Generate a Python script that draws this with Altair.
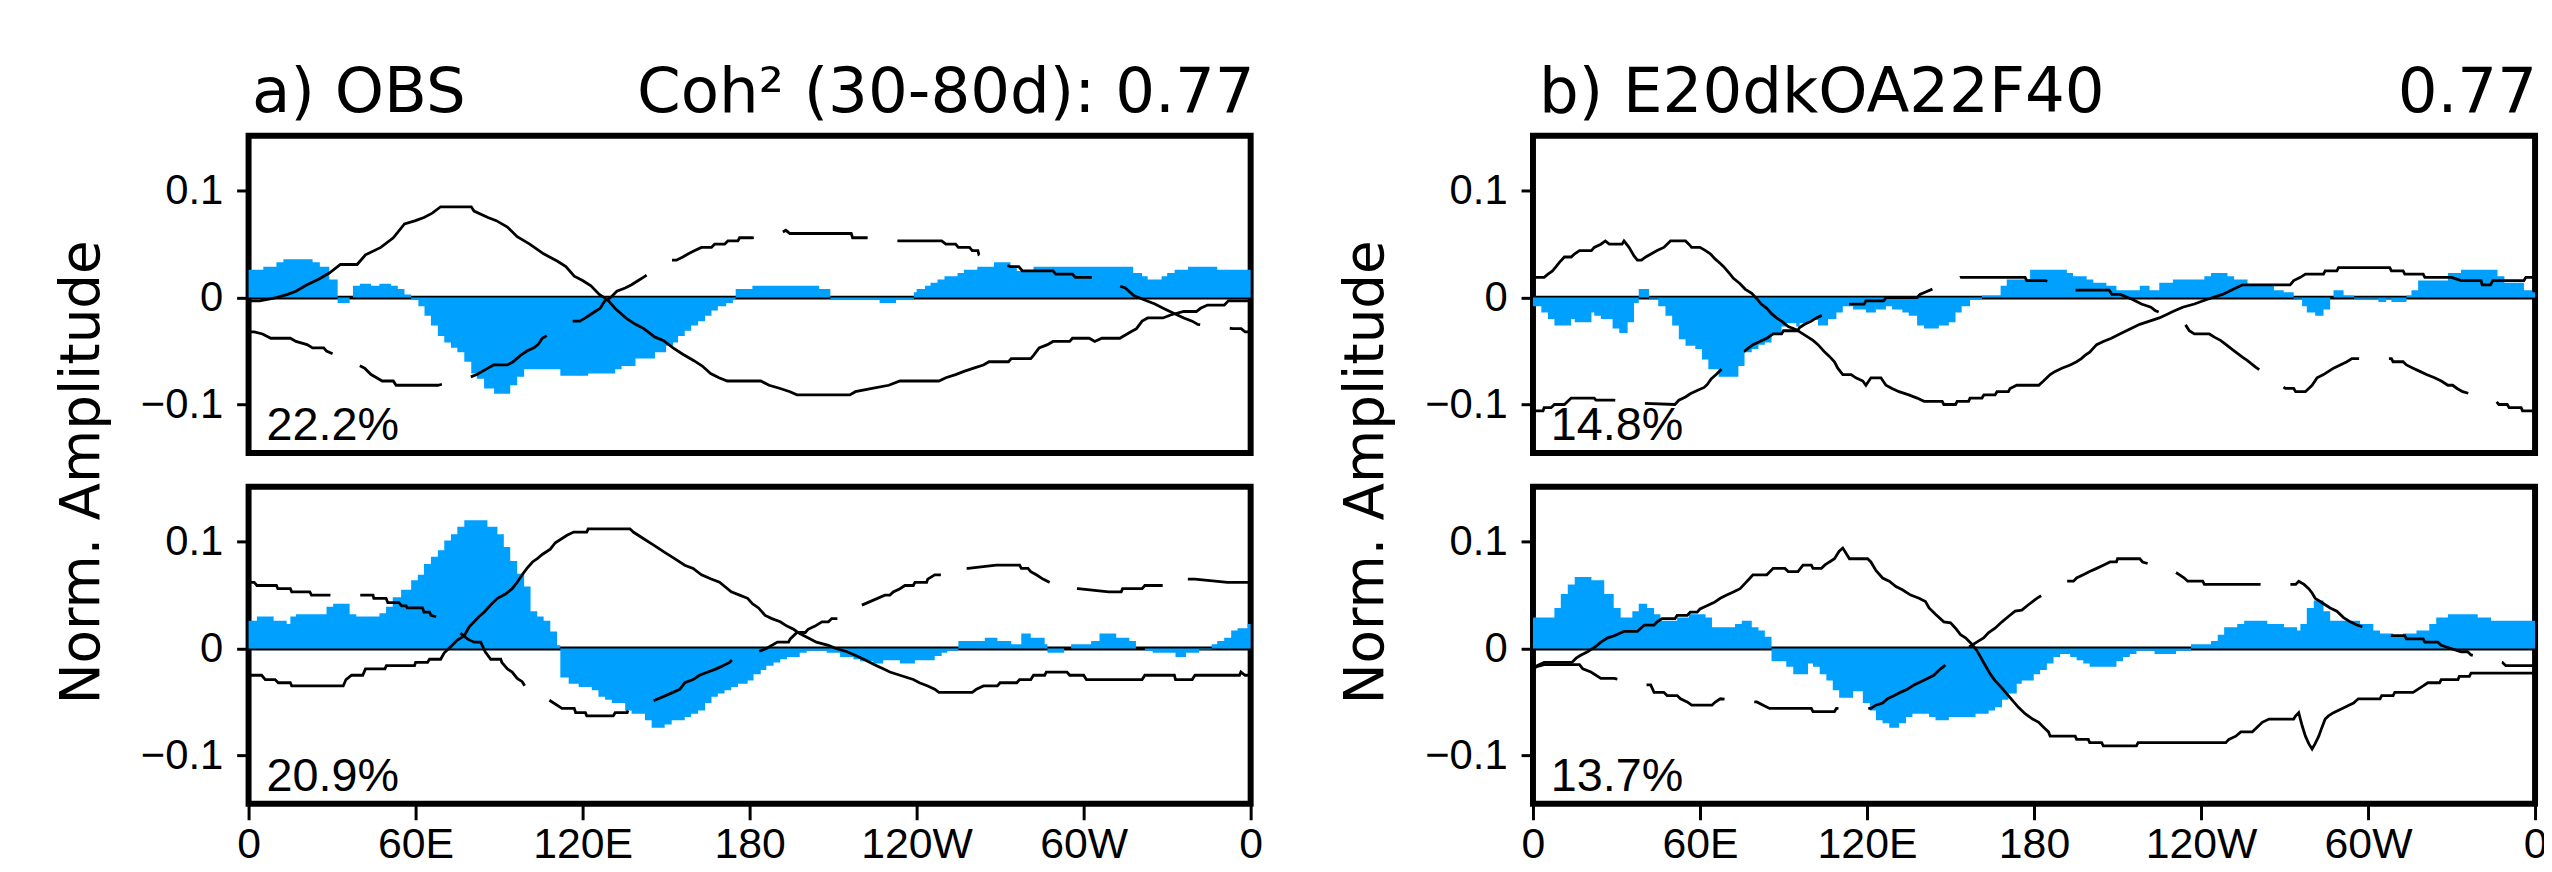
import altair as alt
import pandas as pd

# ---------------- text / ticks ----------------
XTICK_VALUES = [0, 60, 120, 180, 240, 300, 360]
XTICK_LABELS = ["0", "60E", "120E", "180", "120W", "60W", "0"]
YTICK_VALUES = [-0.1, 0, 0.1]
TITLES_LEFT = ["a) OBS", "b) E20dkOA22F40"]
TITLES_RIGHT = ["Coh² (30-80d): 0.77", "0.77"]
PCT = ["22.2%", "20.9%", "14.8%", "13.7%"]
YTITLE = "Norm. Amplitude"

# ---------------- data: [longitude, value] ----------------
# blue shading (step values, each starts at the given longitude)
A_TOP_BLUE = [[0, .026], [5.3, .029], [10, .033], [12.5, .036], [23, .033], [25.6, .029], [29, .017], [32, -.005],
              [36.3, 0.0], [37.5, .011], [40, .013], [44, .011], [47, .013], [51.2, .011], [53.6, .008], [56, .003],
              [58.4, -.002], [61, -.008], [63.2, -.017], [65.5, -.026], [68, -.036], [70.3, -.042], [72.7, -.047],
              [75, -.051], [77.5, -.060], [80, -.071], [82, -.076], [84.6, -.085], [88.2, -.090], [94, -.082],
              [96.5, -.074], [99, -.067], [112, -.073], [122, -.071], [131.7, -.067], [134, -.064], [139, -.057],
              [146, -.051], [150, -.045], [152.5, -.042], [154.3, -.036], [156.7, -.031], [159, -.026], [161.5, -.022],
              [164, -.017], [166.3, -.012], [168.6, -.008], [171.6, -.005], [174, -.002], [175, .008], [181, .011],
              [205, .008], [209, -.002], [226.7, -.005], [232.6, -.002], [239, .005], [240, .008], [243, .011],
              [245, .014], [247.5, .017], [250, .020], [254.7, .023], [257, .026], [261.8, .029], [267.8, .033],
              [273.7, .029], [276, .025], [282, .029], [317.8, .023], [321, .020], [323, .017], [328, .020],
              [330, .023], [332.7, .026], [337.5, .029], [348, .026], [360, .026]]

A_TOP_SOLID = [[0, -.003], [4, -.003], [10, 0.0], [14, .003], [17, .006], [21, .012], [25, .017], [29, .023], [33, .031],
               [39, .031], [42, .040], [47.5, .047], [52, .056], [56, .069], [60, .072], [63, .075], [66, .079],
               [69, .085], [80, .085], [81, .081], [86, .075], [89, .072], [93, .066], [96.5, .057], [101, .050],
               [106, .041], [111, .034], [114, .029], [117, .020], [120, .016], [123, .011], [126, .003], [129, -.002],
               [132, -.011], [136, -.020], [139, -.025], [142, -.029], [146, -.037], [149, -.040], [152.5, -.047],
               [156, -.053], [160, -.059], [163, -.064], [166, -.071], [169, -.075], [172, -.078], [184, -.078],
               [187, -.082], [191, -.085], [194.5, -.088], [197, -.091], [216, -.091], [218, -.088], [224, -.085],
               [230, -.082], [234, -.078], [248, -.078], [250.5, -.075], [254, -.072], [257, -.069], [260.5, -.066],
               [264, -.063], [266, -.060], [273, -.060], [274, -.057], [281, -.057], [282, -.054], [284, -.047],
               [287, -.044], [289, -.041], [295, -.041], [296, -.038], [302, -.038], [304, -.041], [306.5, -.038],
               [313, -.038], [315, -.035], [317, -.032], [319, -.029], [321, -.022], [323, -.019], [328.5, -.019],
               [331.5, -.016], [336, -.013], [340.5, -.013], [342, -.010], [344.5, -.007], [350.5, -.007],
               [352, -.003], [360, -.003]]

A_TOP_DASH = [[0, -.032], [2, -.032], [5, -.034], [8, -.038], [15, -.038], [17, -.041], [21, -.044], [23, -.047],
              [27, -.047], [28, -.050], [39.3, -.063], [41.7, -.066], [44, -.072], [46, -.075], [48, -.078],
              [52, -.078], [53, -.082], [68, -.082], [79, -.075], [82, -.072], [86, -.066], [88, -.063], [93, -.063],
              [95, -.060], [97.7, -.054], [100, -.050], [102.5, -.047], [104, -.044], [105.5, -.038], [116, -.022],
              [119, -.022], [121, -.019], [122.7, -.016], [124.5, -.013], [126.3, -.010], [128, -.003], [130, 0.0],
              [132.3, .006], [135.3, .009], [137.6, .012], [140, .016], [141.8, .019], [151.3, .035], [153.7, .035],
              [156, .038], [158, .041], [160.3, .044], [162.7, .047], [166.3, .047], [167.4, .050], [171, .050],
              [172.2, .053], [175.8, .053], [176.4, .056], [181, .056], [191, .060], [193, .063], [194.5, .060],
              [216.5, .060], [217, .056], [222, .056], [233, .053], [249, .053], [250.5, .050], [254, .050],
              [255, .047], [259, .047], [260, .044], [262, .044], [262.4, .040], [273.7, .029], [276.7, .029],
              [278, .025], [289, .025], [290, .022], [296, .022], [297, .019], [303.5, .019], [315, .009],
              [318, .002], [322.6, -.003], [325.6, -.006], [328.6, -.010], [331, -.013], [336, -.019], [339, -.022],
              [341, -.025], [353.6, -.029], [356.6, -.029], [358, -.032], [360, -.032]]

A_BOT_BLUE = [[0, .026], [3, .030], [9, .026], [13.7, .023], [15, .030], [17, .032], [28, .039], [30.4, .042],
              [36.3, .032], [38.7, .030], [47, .033], [49.4, .039], [51.8, .048], [54.8, .055], [58.4, .064],
              [60.8, .069], [63, .079], [65.5, .086], [68, .092], [70.3, .101], [72.7, .107], [75, .114],
              [77.5, .120], [85.8, .114], [89.4, .107], [91.7, .095], [94, .082], [96.5, .070], [99, .058],
              [101.3, .035], [103.7, .030], [106, .026], [108.4, .016], [110.8, .003], [112, -.027], [115, -.033],
              [118.6, -.036], [123.3, -.039], [125.7, -.045], [128.1, -.048], [130.5, -.051], [135.3, -.058],
              [137.6, -.061], [142.4, -.067], [144.8, -.074], [149.5, -.071], [152, -.067], [156.7, -.064],
              [159, -.061], [161.5, -.058], [164, -.051], [166.3, -.045], [168.6, -.042], [171, -.039],
              [173.4, -.036], [175.8, -.033], [179.3, -.030], [181.4, -.024], [184, -.020], [186, -.016],
              [188.6, -.013], [191, -.010], [193.4, -.008], [198, -.004], [200.5, -.002], [207.7, -.004],
              [212.5, -.008], [217.3, -.010], [219.7, -.012], [224.4, -.014], [228, -.011], [234, -.014],
              [239.4, -.011], [246.5, -.007], [249, -.004], [251, -.002], [255, .007], [264.5, .010], [269, .007],
              [274, .004], [277.6, .014], [281, .010], [286, .004], [287, -.004], [293, 0.0], [295.5, .004],
              [302.7, .007], [305.7, .014], [311.7, .010], [316.4, .007], [318.8, 0.0], [322, -.002], [324.8, -.004],
              [333, -.008], [336.8, -.004], [341.5, -.001], [346, .004], [348, .007], [350.5, .010], [353, .017],
              [355.3, .019], [359, .023], [360, .023]]

A_BOT_SOLID = [[0, -.025], [4.7, -.025], [6, -.029], [9.5, -.029], [10.7, -.032], [15, -.032], [15.5, -.035],
               [34, -.035], [35, -.029], [37, -.025], [41, -.025], [42, -.019], [49, -.019], [49.5, -.016],
               [59.6, -.016], [60, -.013], [64.3, -.013], [65, -.010], [69, -.010], [70.3, -.004], [72.7, .002],
               [75, .008], [77.5, .012], [79.2, .020], [81, .025], [82.8, .030], [84.6, .034], [87, .041],
               [89.4, .047], [92.3, .051], [94.7, .056], [96.5, .062], [98.3, .069], [100, .075], [102, .081],
               [103.7, .084], [105.5, .088], [108.4, .093], [110.2, .099], [112.6, .103], [114.4, .106],
               [116.8, .109], [121.5, .109], [122, .112], [137, .112], [138.2, .109], [141.8, .103], [145.4, .097],
               [149.5, .090], [152.5, .085], [156.7, .078], [159.7, .075], [162.7, .069], [166.2, .065],
               [169.2, .062], [173.4, .053], [176.4, .050], [179.3, .047], [181, .042], [183.2, .038], [185.6, .031],
               [188, .028], [191, .025], [193.4, .021], [195.8, .018], [198, .014], [201.8, .009], [204, .006],
               [208.3, .003], [211, 0.0], [215, -.003], [218.5, -.007], [221, -.010], [223.3, -.013], [225.6, -.016],
               [228, -.019], [230.4, -.022], [234, -.025], [238.8, -.029], [241, -.032], [244, -.035],
               [246.5, -.038], [248, -.041], [260, -.041], [261.5, -.038], [264, -.035], [269, -.035], [270, -.032],
               [276, -.032], [277, -.029], [281, -.029], [282, -.025], [286, -.025], [286.6, -.022], [294, -.022],
               [295, -.025], [300, -.025], [301, -.029], [321, -.029], [322, -.025], [332.6, -.025], [333, -.029],
               [339, -.029], [340, -.025], [356, -.025], [356.5, -.022], [358, -.025], [360, -.025]]

A_BOT_DASH = [[0, .062], [2, .062], [3, .059], [10, .059], [10.5, .056], [15, .056], [15.5, .053], [22, .053],
              [22.6, .050], [29, .050], [40.5, .050], [44.7, .050], [45, .047], [49.4, .047], [50, .043], [54, .043],
              [55, .040], [56.6, .040], [57, .038], [62.5, .038], [63, .034], [65, .034], [65.5, .031], [70, .028],
              [78.6, .009], [81, .006], [83.4, .006], [85, -.003], [87, -.010], [90.6, -.010], [91, -.013],
              [93, -.019], [94.7, -.022], [96.5, -.028], [98.3, -.031], [100, -.038], [102, -.041], [103.7, -.041],
              [112.6, -.056], [117, -.056], [117.5, -.060], [121, -.060], [121.5, -.063], [131, -.063],
              [131.7, -.060], [136, -.060], [136.5, -.056], [141, -.056], [141.8, -.053], [152.5, -.041],
              [155, -.038], [156.7, -.032], [159.7, -.029], [162, -.025], [165, -.022], [168, -.019], [170.4, -.016],
              [172.8, -.013], [175, -.007], [181, -.005], [186, 0.0], [190, .006], [194, .006], [194.6, .009],
              [197, .015], [200, .015], [201, .018], [203.5, .021], [206, .025], [208.3, .025], [209.5, .028],
              [213.7, .028], [215, .031], [217.3, .034], [218, .038], [228.6, .050], [230.4, .050], [231.6, .053],
              [234, .056], [235.8, .059], [238.8, .059], [239.4, .062], [243.6, .062], [244, .065], [246.5, .069],
              [250.7, .069], [251.3, .072], [255.5, .072], [256, .075], [258.5, .075], [268.6, .078], [277, .078],
              [277.6, .075], [280, .075], [281, .072], [283, .069], [285.4, .065], [287.7, .062], [290, .059],
              [294.3, .059], [295, .056], [298, .056], [309, .053], [313.5, .053], [314, .056], [321, .056],
              [322, .059], [329, .059], [329.6, .062], [336.8, .062], [337, .065], [340, .065], [351.7, .062],
              [360, .062]]

B_TOP_BLUE = [[0, -.008], [3, -.014], [5.4, -.020], [7.7, -.026], [13.7, -.020], [15, -.023], [21, -.014], [22, -.017],
              [24.4, -.020], [28.6, -.029], [31, -.033], [34, -.023], [36.3, -.005], [38, .008], [41.7, -.001],
              [45, -.008], [47.6, -.017], [50, -.026], [52.4, -.039], [54.8, -.045], [58.3, -.048], [60.7, -.058],
              [63, -.067], [66.7, -.074], [73.8, -.064], [76, -.051], [78.6, -.048], [81, -.044], [83.3, -.042],
              [85.7, -.033], [89.3, -.027], [91, -.024], [94.6, -.027], [95.8, -.024], [99.4, -.021], [102.4, -.026],
              [106, -.020], [109, -.014], [111.3, -.008], [115, -.011], [119.6, -.014], [123.2, -.011],
              [126.8, -.008], [129, -.011], [132.7, -.014], [135, -.017], [138, -.026], [140.5, -.029],
              [145.8, -.026], [149.4, -.023], [151.8, -.014], [154, -.008], [157, -.002], [161.3, .002], [168, .011],
              [170.2, .017], [178.6, .026], [191.8, .023], [194, .020], [198.9, .017], [201.3, .014], [206, .011],
              [209.6, .007], [218, .011], [221.5, .007], [225, .014], [229.9, .017], [241.2, .020], [243.6, .023],
              [249.5, .020], [251.9, .017], [256.7, .011], [266.2, .007], [269.7, .005], [273.3, -.001],
              [276.3, -.008], [278, -.014], [281, -.017], [284, -.011], [286.4, 0.0], [287.6, .007], [291.2, .002],
              [295, -.001], [303.7, -.004], [306.5, -.001], [308.4, -.004], [313.8, .002], [315.6, .007], [318, .016],
              [328.7, .023], [333.4, .026], [346.5, .020], [349, .014], [356, .007], [359, .005], [360, .005]]

B_TOP_SOLID = [[0, .019], [4, .019], [5.4, .022], [7, .025], [8.3, .029], [9.5, .033], [11.3, .038], [13.7, .038],
               [15, .041], [16.7, .044], [21, .044], [22, .047], [24.4, .050], [26, .053], [27.4, .050], [32, .050],
               [32.7, .053], [34.5, .047], [36.3, .039], [37.5, .035], [39, .035], [40.5, .038], [44.6, .044],
               [47, .047], [48.2, .050], [49.4, .053], [54.8, .053], [56, .050], [57, .047], [60, .047], [62, .044],
               [63.7, .041], [65.5, .036], [67.3, .032], [68.5, .029], [70.8, .022], [72, .018], [74.4, .013],
               [76.2, .008], [78.6, .004], [80.4, -.001], [82, -.006], [84, -.010], [85.7, -.015], [87.5, -.019],
               [89.3, -.022], [91.7, -.027], [94.6, -.030], [96.4, -.033], [98.8, -.037], [100.6, -.040],
               [102.4, -.044], [104.8, -.051], [106.5, -.055], [108.3, -.060], [109.5, -.066], [111.3, -.072],
               [114.3, -.072], [116, -.075], [118.5, -.078], [119.6, -.082], [121.4, -.075], [125, -.075],
               [126.8, -.082], [129, -.085], [131.5, -.088], [135, -.091], [138, -.094], [140.5, -.097], [147, -.097],
               [147.6, -.100], [151.8, -.100], [152.4, -.097], [156.5, -.097], [157, -.094], [161.3, -.094],
               [162, -.091], [166, -.091], [166.7, -.088], [170.8, -.088], [171.4, -.085], [173.8, -.082],
               [181.7, -.082], [183.4, -.078], [185.8, -.072], [187.6, -.069], [190, -.066], [193, -.063],
               [195.3, -.060], [197, -.057], [198.3, -.054], [200, -.051], [202.5, -.044], [204.9, -.041],
               [207.8, -.038], [210.8, -.034], [213.2, -.031], [215.6, -.028], [218, -.025], [221.5, -.022],
               [225, -.019], [227.5, -.016], [229.9, -.013], [233.4, -.009], [237.6, -.006], [241.8, -.002],
               [247.7, .003], [250.1, .006], [252.5, .009], [255, .012], [272, .012], [273.3, .016], [275.7, .019],
               [277.5, .022], [284, .022], [284.6, .025], [288.8, .025], [289.4, .028], [307.8, .028], [308.4, .025],
               [312.6, .025], [313.2, .022], [319.8, .022], [320.4, .019], [330, .019], [333.4, .016], [340.6, .016],
               [341, .012], [344, .012], [344.8, .016], [356, .016], [356.7, .019], [360, .019]]

B_TOP_DASH = [[0, -.106], [3.6, -.106], [4, -.103], [6.5, -.103], [7.7, -.100], [11.3, -.100], [13.7, -.094],
              [22, -.094], [22.6, -.096], [29, -.096], [40, -.099], [51, -.100], [52.4, -.096], [54.8, -.093],
              [56.5, -.090], [59, -.087], [61.5, -.084], [62.7, -.081], [64, -.076], [65.8, -.072], [74.4, -.050],
              [76, -.050], [79, -.044], [81.5, -.041], [84, -.038], [86.3, -.034], [89.3, -.034], [90, -.031],
              [95, -.031], [95.8, -.028], [97.6, -.025], [100, -.022], [101.8, -.019], [112.5, -.006], [119, -.006],
              [119.6, -.003], [126, -.003], [126.8, 0.0], [138, 0.0], [139, .003], [141.7, .006], [153.6, .019],
              [176.8, .019], [177.4, .016], [184, .016], [194, .007], [207, .007], [208, .003], [211, .003],
              [215.6, -.002], [218.6, -.006], [222, -.009], [223.5, -.012], [234.3, -.025], [235.8, -.031],
              [237.6, -.034], [243, -.034], [244.8, -.037], [247, -.040], [249, -.044], [252, -.050], [255, -.056],
              [256.7, -.059], [259.6, -.065], [270.3, -.085], [273.3, -.085], [274, -.088], [277.5, -.088],
              [278.7, -.085], [279.9, -.082], [281.7, -.075], [284, -.072], [285.8, -.069], [287.6, -.066],
              [290, -.063], [292.4, -.060], [294.2, -.057], [296, -.057], [308.4, -.057], [309, -.060],
              [312.6, -.060], [313.8, -.063], [316.2, -.066], [318.6, -.069], [321, -.072], [323.9, -.075],
              [326.3, -.078], [328.7, -.082], [330.4, -.082], [332, -.085], [334, -.088], [346, -.097], [347, -.100],
              [350, -.100], [350.7, -.103], [355, -.103], [355.5, -.106], [360, -.106]]

B_BOT_BLUE = [[0, .029], [7.7, .038], [10, .051], [12.5, .060], [15, .067], [21, .064], [25.6, .051], [29, .038],
              [31.5, .029], [35.7, .035], [38, .042], [41, .038], [43.5, .032], [45.8, .026], [51.8, .029], [56, .032],
              [62, .029], [64.3, .020], [72.6, .023], [75, .026], [78.6, .020], [81, .017], [83.3, .011],
              [85.7, -.012], [91, -.017], [93.5, -.024], [98.8, -.014], [100.6, -.017], [103, -.024], [105.4, -.030],
              [107.7, -.039], [110, -.046], [115, -.040], [118.5, -.051], [121, -.058], [123.2, -.067],
              [125.6, -.070], [128, -.074], [131.5, -.070], [134, -.064], [136.3, -.061], [142.3, -.064],
              [144.6, -.067], [149.4, -.064], [159, -.061], [163.7, -.058], [166, -.055], [168.5, -.048],
              [170.8, -.042], [173.8, -.033], [175.6, -.030], [179.9, -.024], [182.2, -.020], [184.6, -.014],
              [187, -.008], [189.4, -.005], [193, -.008], [195.3, -.011], [197.7, -.014], [200, -.017],
              [209.6, -.012], [212, -.008], [214.4, -.005], [216.8, -.002], [223.3, -.005], [231, -.002],
              [236.4, .004], [243.6, .007], [246, .013], [248.3, .020], [253, .023], [255.5, .026], [263.8, .023],
              [269.8, .020], [274.5, .017], [275.7, .023], [278, .038], [280.5, .045], [284, .035], [286.4, .026],
              [297.1, .023], [301.9, .017], [304.3, .014], [309, .012], [312.6, .014], [317.4, .017], [322, .023],
              [324.5, .029], [328.7, .032], [339.4, .029], [344.2, .026], [360, .026]]

B_BOT_SOLID = [[0, -.020], [1.5, -.016], [4, -.013], [14, -.013], [15.5, -.009], [17.3, -.006], [19.6, -.003],
               [22.6, .002], [24.4, .006], [26.8, .010], [29.2, .012], [32.7, .016], [37.5, .016], [38.7, .019],
               [40, .022], [43.5, .022], [44.6, .025], [46.4, .028], [51, .028], [51.8, .031], [55.4, .031],
               [56.5, .034], [59, .034], [60, .037], [62.5, .040], [65, .043], [67.3, .047], [69.6, .050], [72, .053],
               [74.4, .056], [76.2, .061], [78, .066], [79, .069], [84, .069], [86.3, .075], [90.5, .075],
               [91.7, .072], [95.2, .072], [97, .078], [100, .078], [100.6, .075], [103.6, .075], [104.8, .078],
               [106.5, .081], [108.3, .084], [110, .091], [111.3, .094], [113.7, .084], [120.2, .084], [121.4, .081],
               [123.2, .073], [125.6, .066], [128, .063], [130.4, .058], [132.7, .055], [135.7, .050], [138.7, .047],
               [141, .044], [142.3, .038], [144.6, .032], [147.6, .025], [150, .024], [151.8, .019], [153.6, .013],
               [155.4, .010], [157.7, .004], [159.5, -.002], [161.9, -.013], [164.3, -.024], [166, -.030],
               [168.5, -.037], [171.4, -.046], [174.4, -.055], [176.8, -.061], [179.5, -.066], [181.7, -.069],
               [182.8, -.072], [184, -.075], [185.2, -.078], [185.8, -.082], [194.8, -.082], [195.3, -.085],
               [199.5, -.085], [200, -.088], [204.3, -.088], [204.9, -.091], [216.8, -.091], [217.4, -.088],
               [248.9, -.088], [250, -.085], [252.5, -.082], [254.3, -.078], [258.4, -.078], [259.6, -.075],
               [262, -.069], [264.4, -.066], [273.3, -.066], [274, -.063], [275.1, -.060], [276.3, -.072],
               [277.5, -.082], [278.7, -.089], [279.9, -.094], [281, -.089], [282.3, -.082], [283.4, -.074],
               [284.6, -.066], [285.8, -.063], [287.6, -.060], [290, -.057], [292.4, -.054], [294.8, -.051],
               [296.5, -.047], [304.3, -.047], [304.9, -.044], [309, -.044], [309.6, -.041], [316.2, -.041],
               [318, -.038], [319.8, -.035], [321.5, -.032], [325.7, -.032], [326.3, -.029], [332.3, -.029],
               [332.8, -.026], [336.4, -.026], [337, -.023], [360, -.023]]

B_BOT_DASH = [[0, -.018], [4, -.015], [16.7, -.015], [17.9, -.019], [20.8, -.022], [24.4, -.028], [29.2, -.028],
              [39.3, -.034], [42.3, -.034], [43.5, -.041], [47, -.041], [48.2, -.044], [51.8, -.044], [53, -.047],
              [55.4, -.050], [57, -.053], [64.3, -.053], [65.5, -.050], [67.3, -.047], [80.4, -.050], [82.7, -.053],
              [85, -.056], [100, -.056], [100.6, -.059], [108.3, -.059], [109, -.056], [121.4, -.056],
              [123.2, -.053], [125.6, -.051], [127.4, -.047], [129.8, -.044], [132, -.041], [134.5, -.038],
              [136.9, -.034], [139.3, -.031], [141.7, -.028], [144, -.025], [146.4, -.019], [157, .002], [160, .007],
              [161.9, .010], [163.7, .015], [166, .019], [168.5, .025], [170.8, .030], [173.2, .035], [175.6, .036],
              [178, .041], [181, .047], [191.8, .063], [194.2, .063], [195.3, .066], [197.7, .069], [200, .072],
              [202.5, .075], [204.9, .078], [207.3, .081], [209.6, .081], [210, .084], [218, .084], [219, .081],
              [230.5, .072], [232.3, .069], [234, .066], [235.2, .063], [240.6, .063], [241.2, .060], [261.4, .060],
              [272.7, .060], [274, .060], [275.1, .063], [277, .060], [278.7, .056], [279.9, .052], [281, .047],
              [282.8, .044], [284.6, .041], [286.4, .038], [288.8, .035], [291.2, .029], [293.6, .025], [296, .022],
              [308.4, .012], [313.2, .012], [313.8, .009], [319.8, .009], [320.4, .006], [325.1, .006], [326.3, .003],
              [333.4, -.003], [335.8, -.003], [337, -.006], [348.3, -.013], [349.5, -.016], [360, -.016]]

# ---------------- style / layout ----------------
W, H = 1008, 319
YDOM = [-0.1453, 0.1514]
BLUE = "#00a0ff"
TICKFONT = "Liberation Sans Narrow, Liberation Sans, sans-serif"
TXTFONT = "DejaVu Sans"
PCTFONT = "Liberation Sans"

XEXPR = "".join(f"datum.value == {v} ? '{l}' : " for v, l in zip(XTICK_VALUES, XTICK_LABELS)) + "''"

ONE = pd.DataFrame({"k": [0]})


def frame(rows):
    return pd.DataFrame(rows, columns=["lon", "v"])


def panel(blue, solid, dashed, pct, show_x, tl=None, tr=None, tl_dx=3.5, tr_dx=4, ylabel=False, anchor=False):
    xs = alt.Scale(domain=[0, 360], nice=False, zero=False)
    ys = alt.Scale(domain=YDOM, nice=False, zero=False)
    if show_x:
        xax = alt.Axis(values=XTICK_VALUES, labelExpr=XEXPR, tickSize=16, labelPadding=4,
                       labelFlush=False, labelOverlap=False, labelFontSize=43, labelFont=TICKFONT)
    else:
        xax = None
    yax = alt.Axis(values=YTICK_VALUES, format=".1~f", tickSize=12, labelPadding=14, labelFontSize=42,
                   labelFont=TICKFONT, labelOverlap=False, labelFlush=False)
    X = alt.X("lon:Q", scale=xs, axis=xax, title=None)
    Y = alt.Y("v:Q", scale=ys, axis=yax, title=None)

    layers = [
        alt.Chart(ONE).mark_rule(color="black", strokeWidth=4).encode(y=alt.datum(0)),
        alt.Chart(frame(blue)).mark_area(color=BLUE, interpolate="step-after", opacity=1)
        .encode(x=X, y=Y, y2=alt.datum(0)),
        alt.Chart(frame(solid)).mark_line(color="black", strokeWidth=2.8).encode(x=X, y=Y),
        alt.Chart(frame(dashed)).mark_line(color="black", strokeWidth=2.8, strokeDash=[90, 30])
        .encode(x=X, y=Y),
        alt.Chart(ONE).mark_text(align="left", baseline="alphabetic", fontSize=47, font=PCTFONT, color="black")
        .encode(x=alt.value(18), y=alt.value(306), text=alt.value(pct)),
    ]
    if tl:
        layers.append(alt.Chart(ONE).mark_text(align="left", baseline="alphabetic", fontSize=63, font=TXTFONT,
                                               color="black")
                      .encode(x=alt.value(tl_dx), y=alt.value(-24), text=alt.value(tl)))
    if tr:
        layers.append(alt.Chart(ONE).mark_text(align="right", baseline="alphabetic", fontSize=63, font=TXTFONT,
                                               color="black")
                      .encode(x=alt.value(W + tr_dx), y=alt.value(-24), text=alt.value(tr)))
    if ylabel:
        layers.append(alt.Chart(ONE).mark_text(align="center", baseline="alphabetic", fontSize=55, font=TXTFONT,
                                               angle=270, color="black")
                      .encode(x=alt.value(-150.5), y=alt.value(338.5), text=alt.value(YTITLE)))
    if anchor:
        layers.append(alt.Chart(ONE).mark_rule(opacity=0, strokeOpacity=0)
                      .encode(x=alt.value(-238.5), y=alt.value(-122.5), y2=alt.value(-121.5)))
    return alt.layer(*layers).properties(width=W, height=H)


a_top = panel(A_TOP_BLUE, A_TOP_SOLID, A_TOP_DASH, PCT[0], False, TITLES_LEFT[0], TITLES_RIGHT[0],
              tl_dx=3.5, tr_dx=4, ylabel=True, anchor=True)
b_top = panel(B_TOP_BLUE, B_TOP_SOLID, B_TOP_DASH, PCT[2], False, TITLES_LEFT[1], TITLES_RIGHT[1],
              tl_dx=6, tr_dx=2, ylabel=True)
a_bot = panel(A_BOT_BLUE, A_BOT_SOLID, A_BOT_DASH, PCT[1], True)
b_bot = panel(B_BOT_BLUE, B_BOT_SOLID, B_BOT_DASH, PCT[3], True)

chart = (
    alt.concat(a_top, b_top, a_bot, b_bot, columns=2, spacing={"row": 34, "column": 284}, bounds="flush")
    .configure_view(stroke="black", strokeWidth=6)
    .configure_axis(grid=False, domain=False, ticks=True, tickColor="black", tickWidth=3, labelColor="black")
    .properties(padding={"left": 0, "top": 0, "right": -6, "bottom": 0}, background="white")
)

chart.save("out.html", embed_options={"renderer": "svg", "actions": False})
